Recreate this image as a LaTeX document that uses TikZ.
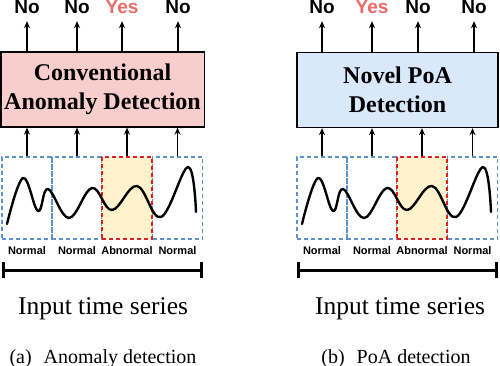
\documentclass[tikz,border=0pt]{standalone}
\usepackage{fontspec}
\setmainfont{Liberation Serif}
\setsansfont{Liberation Sans}
\usetikzlibrary{arrows.meta,positioning}
\definecolor{convcolor}{HTML}{F8CECC}
\definecolor{poacolor}{HTML}{DAE8FC}
\definecolor{normalcolor}{HTML}{5B93CF}
\definecolor{abnormalcolor}{HTML}{E0201E}
\definecolor{abnormalfill}{HTML}{FFF2CC}
\definecolor{yescolor}{HTML}{EA6B66}

\begin{document}
\begin{tikzpicture}[x=1pt, y=-1pt,
    detector/.style={
        rectangle, minimum width=201pt, minimum height=75pt, align=center,
        draw=black, line width=1.3pt, fill=#1,
        font=\fontsize{24}{29}\selectfont\bfseries
    },
    verdict/.style={
        font=\sffamily\bfseries\fontsize{19}{19}\selectfont,
        inner sep=0pt, text height=14pt, text depth=4pt
    },
    segment/.style={
        rectangle, minimum width=50pt, minimum height=82pt, inner sep=0pt,
        draw=normalcolor, line width=1.2pt, dash pattern=on 4pt off 3pt
    },
    anomseg/.style={
        segment, draw=abnormalcolor, fill=abnormalfill
    },
    seglabel/.style={
        font=\sffamily\bfseries\fontsize{11}{11}\selectfont, inner sep=0pt
    },
    flow/.style={
        -{Stealth[length=7pt, width=6pt]}, line width=1.6pt
    },
    signal/.style={
        line width=2.4pt, line join=round, line cap=round
    },
    timeline/.style={
        {Bar[width=16pt]}-{Bar[width=16pt]}, line width=3pt
    },
    inputlabel/.style={
        font=\fontsize{25.5}{26}\selectfont, anchor=base
    },
    subcaption/.style={
        font=\fontsize{20}{20}\selectfont, anchor=base
    }
]
\useasboundingbox (0,0) rectangle (500,366);

% (a) Conventional anomaly detection
\node[detector=convcolor] (convbox) at (102.5, 89.5) {Conventional\\Anomaly Detection};

\node[verdict] (verdA1) at (27, 9) {No};
\node[verdict] (verdA2) at (77, 9) {No};
\node[verdict, text=yescolor] (verdA3) at (122, 9) {Yes};
\node[verdict] (verdA4) at (178, 9) {No};

\draw[flow] (convbox.north -| verdA1) -- ([yshift=-3pt]verdA1.south);
\draw[flow] (convbox.north -| verdA2) -- ([yshift=-3pt]verdA2.south);
\draw[flow] (convbox.north -| verdA3) -- ([yshift=-3pt]verdA3.south);
\draw[flow] (convbox.north -| verdA4) -- ([yshift=-3pt]verdA4.south);

% input windows
\node[segment] (segA1) at (27, 198) {};
\node[segment] (segA2) at (77, 198) {};
\node[segment] (segA4) at (177.5, 198) {};
\node[anomseg] (segA3) at (127, 198) {};

\draw[signal] plot[smooth, tension=0.65] coordinates {
    (7,224) (23,178) (38,211) (48,189) (69,218) (92,188)
    (112,210) (137,186) (161,217) (188,167) (196,212)};

\draw[flow] (segA1.north) -- (segA1.north |- convbox.south);
\draw[flow] (segA2.north) -- (segA2.north |- convbox.south);
\draw[flow] (segA3.north) -- (segA3.north |- convbox.south);
\draw[flow] (segA4.north) -- (segA4.north |- convbox.south);

\node[seglabel, below=7pt of segA1] (lblA1) {Normal};
\node[seglabel, below=7pt of segA2] (lblA2) {Normal};
\node[seglabel, below=7pt of segA3] (lblA3) {Abnormal};
\node[seglabel, below=7pt of segA4] (lblA4) {Normal};

\coordinate (tlAw) at (2, 270);
\coordinate (tlAe) at (203, 270);
\draw[timeline] (tlAw) -- (tlAe);

\node[inputlabel] (inputA) at (103, 314) {Input time series};
\node[subcaption] (capA) at (103, 363) {(a)\hspace{0.6em}Anomaly detection};

% (b) PoA detection
\node[detector=poacolor] (poabox) at (397.5, 90) {Novel PoA\\Detection};

\node[verdict] (verdB1) at (322, 9) {No};
\node[verdict, text=yescolor] (verdB2) at (372, 9) {Yes};
\node[verdict] (verdB3) at (418, 9) {No};
\node[verdict] (verdB4) at (474, 9) {No};

\draw[flow] (poabox.north -| verdB1) -- ([yshift=-3pt]verdB1.south);
\draw[flow] (poabox.north -| verdB2) -- ([yshift=-3pt]verdB2.south);
\draw[flow] (poabox.north -| verdB3) -- ([yshift=-3pt]verdB3.south);
\draw[flow] (poabox.north -| verdB4) -- ([yshift=-3pt]verdB4.south);

% input windows
\node[segment] (segB1) at (322, 198) {};
\node[segment] (segB2) at (372, 198) {};
\node[segment] (segB4) at (472.5, 198) {};
\node[anomseg] (segB3) at (422, 198) {};

\draw[signal, xshift=295pt] plot[smooth, tension=0.65] coordinates {
    (7,224) (23,178) (38,211) (48,189) (69,218) (92,188)
    (112,210) (137,186) (161,217) (188,167) (196,212)};

\draw[flow] (segB1.north) -- (segB1.north |- poabox.south);
\draw[flow] (segB2.north) -- (segB2.north |- poabox.south);
\draw[flow] (segB3.north) -- (segB3.north |- poabox.south);
\draw[flow] (segB4.north) -- (segB4.north |- poabox.south);

\node[seglabel, below=7pt of segB1] (lblB1) {Normal};
\node[seglabel, below=7pt of segB2] (lblB2) {Normal};
\node[seglabel, below=7pt of segB3] (lblB3) {Abnormal};
\node[seglabel, below=7pt of segB4] (lblB4) {Normal};

\coordinate (tlBw) at (297, 270);
\coordinate (tlBe) at (498, 270);
\draw[timeline] (tlBw) -- (tlBe);

\node[inputlabel] (inputB) at (400, 314) {Input time series};
\node[subcaption] (capB) at (396, 363) {(b)\hspace{0.6em}PoA detection};

\end{tikzpicture}
\end{document}
